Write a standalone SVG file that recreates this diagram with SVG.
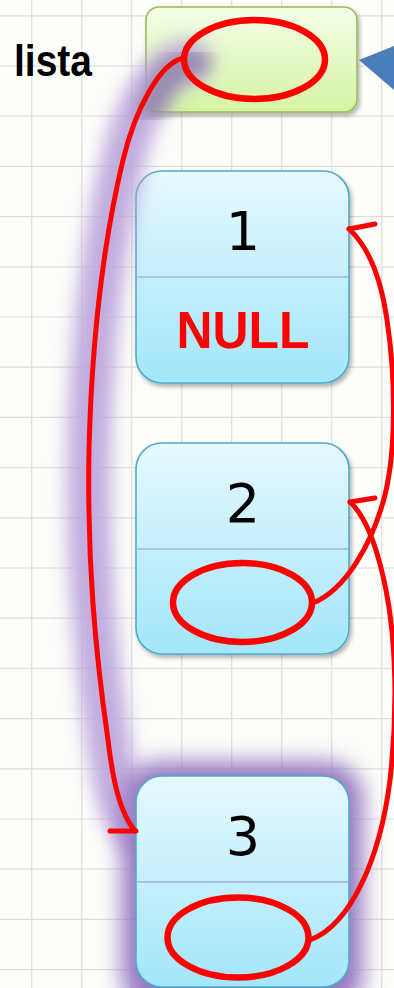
<svg xmlns="http://www.w3.org/2000/svg" width="394" height="988" viewBox="0 0 394 988">
<style>
.grid line{stroke:#dededa;stroke-width:1.2}
.node{fill:url(#gBlue);stroke:#4eaac8;stroke-width:1.6}
.div{stroke:#a3b4dc;stroke-width:1.6}
.num{font-family:"DejaVu Sans",sans-serif;font-size:54px;fill:#000;text-anchor:middle}
.red{fill:none;stroke:#ff0000;stroke-width:5;stroke-linecap:round}
.ell{fill:none;stroke:#ff0000;stroke-width:6.5}
</style>
<defs>
<linearGradient id="gBlue" x1="0" y1="0" x2="0" y2="1">
<stop offset="0" stop-color="#e6f9ff"/><stop offset="1" stop-color="#a3e6fa"/>
</linearGradient>
<linearGradient id="gGreen" x1="0" y1="0" x2="0" y2="1">
<stop offset="0" stop-color="#f4fde8"/><stop offset="1" stop-color="#d5f4a3"/>
</linearGradient>
<filter id="blur" x="-100%" y="-20%" width="300%" height="140%"><feGaussianBlur stdDeviation="9"/></filter>
<filter id="blur2" x="-50%" y="-50%" width="200%" height="200%"><feGaussianBlur stdDeviation="11"/></filter>
<filter id="shadow" x="-20%" y="-20%" width="140%" height="140%"><feDropShadow dx="2" dy="3" stdDeviation="2" flood-color="#000" flood-opacity="0.3"/></filter>
</defs>
<rect width="394" height="988" fill="#fdfdfa"/>
<g class="grid">
<line x1="31.7" y1="0" x2="31.7" y2="988"/><line x1="81.7" y1="0" x2="81.7" y2="988"/><line x1="131.7" y1="0" x2="131.7" y2="988"/><line x1="181.7" y1="0" x2="181.7" y2="988"/><line x1="231.7" y1="0" x2="231.7" y2="988"/><line x1="281.7" y1="0" x2="281.7" y2="988"/><line x1="331.7" y1="0" x2="331.7" y2="988"/><line x1="381.7" y1="0" x2="381.7" y2="988"/>
<line x1="0" y1="15.8" x2="394" y2="15.8"/><line x1="0" y1="66" x2="394" y2="66"/><line x1="0" y1="116.2" x2="394" y2="116.2"/><line x1="0" y1="166.4" x2="394" y2="166.4"/><line x1="0" y1="216.6" x2="394" y2="216.6"/><line x1="0" y1="266.8" x2="394" y2="266.8"/><line x1="0" y1="317" x2="394" y2="317"/><line x1="0" y1="367.2" x2="394" y2="367.2"/><line x1="0" y1="417.4" x2="394" y2="417.4"/><line x1="0" y1="467.6" x2="394" y2="467.6"/><line x1="0" y1="517.8" x2="394" y2="517.8"/><line x1="0" y1="568" x2="394" y2="568"/><line x1="0" y1="618.2" x2="394" y2="618.2"/><line x1="0" y1="668.4" x2="394" y2="668.4"/><line x1="0" y1="718.6" x2="394" y2="718.6"/><line x1="0" y1="768.8" x2="394" y2="768.8"/><line x1="0" y1="819" x2="394" y2="819"/><line x1="0" y1="869.2" x2="394" y2="869.2"/><line x1="0" y1="919.4" x2="394" y2="919.4"/><line x1="0" y1="969.6" x2="394" y2="969.6"/>
</g>
<text x="53" y="76" font-family="Liberation Sans, Arial, sans-serif" font-weight="bold" font-size="44" text-anchor="middle" textLength="78" lengthAdjust="spacingAndGlyphs">lista</text>
<polygon points="359,60 394,46 394,90" fill="#4a7ebb"/>
<g id="lista">
<rect x="146" y="7" width="211" height="105" rx="13" fill="url(#gGreen)" stroke="#9bbb59" stroke-width="1.6" filter="url(#shadow)"/>
</g>
<g id="node1">
<rect class="node" x="136" y="171" width="213" height="212" rx="26" filter="url(#shadow)"/>
<line class="div" x1="136.8" y1="277" x2="348.2" y2="277"/>
<text class="num" x="243" y="250">1</text>
<text x="243" y="348" font-family="Liberation Sans, Arial, sans-serif" font-weight="bold" font-size="52" fill="#ff0000" text-anchor="middle" textLength="133" lengthAdjust="spacingAndGlyphs">NULL</text>
</g>
<g id="node2">
<rect class="node" x="136" y="443" width="213" height="211" rx="26" filter="url(#shadow)"/>
<line class="div" x1="136.8" y1="549" x2="348.2" y2="549"/>
<text class="num" x="243" y="522">2</text>
</g>
<g id="glow">
<path d="M190,62 C160,62 135,110 123,160 C105,235 92,330 89,450 C87,560 95,650 108,740 C114,790 122,815 135,831" fill="none" stroke="#bba4dc" stroke-width="44" stroke-opacity="0.9" stroke-linecap="round" filter="url(#blur)"/>
<path d="M196,62 C170,64 160,90 150,110" fill="none" stroke="#6e6a80" stroke-width="26" stroke-opacity="0.5" stroke-linecap="round" filter="url(#blur)"/>
<rect x="122" y="762" width="241" height="250" rx="36" fill="#9678c2" filter="url(#blur2)"/>
</g>
<g id="node3">
<rect class="node" x="136" y="776" width="213" height="211" rx="26"/>
<line class="div" x1="136.8" y1="882" x2="348.2" y2="882"/>
<text class="num" x="243" y="855">3</text>
</g>
<g id="connectors">
<ellipse class="ell" cx="254.5" cy="59.5" rx="70.5" ry="39.5"/>
<ellipse class="ell" cx="242.5" cy="602.5" rx="69.5" ry="39.5"/>
<ellipse class="ell" cx="238" cy="937.5" rx="70.5" ry="40"/>
<path class="red" d="M184,58 C160,62 135,110 123,160 C105,235 92,330 89,450 C87,560 95,650 108,740 C114,790 122,815 135,831"/>
<path class="red" d="M110,831 L136,831"/>
<path class="red" d="M313,603 C345,590 372,545 385,495 C396,450 396,380 387,320 C382,285 372,250 349,229"/>
<path class="red" d="M349,229 L375,224"/>
<path class="red" d="M310,940 C350,925 380,860 390,780 C398,710 396,640 386,590 C380,560 370,520 350,502"/>
<path class="red" d="M350,502 L375,498"/>
</g>
</svg>
